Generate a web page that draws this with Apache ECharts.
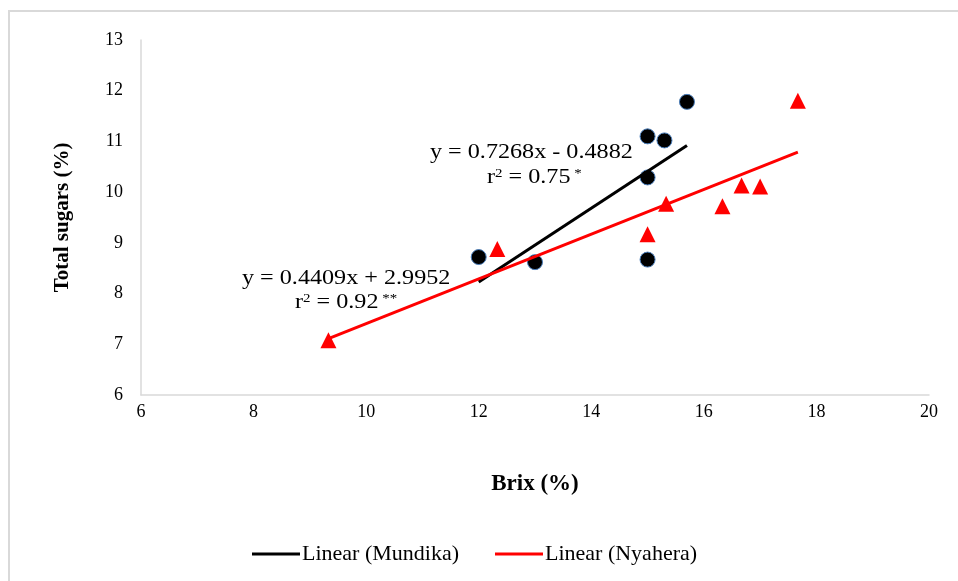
<!DOCTYPE html>
<html>
<head>
<meta charset="utf-8">
<script src="https://cdn.jsdelivr.net/npm/echarts@6/dist/echarts.min.js"></script>
<style>html,body{margin:0;padding:0;background:#fff}#c{width:958px;height:581px}</style>
</head>
<body>
<div id="c"></div>
<script>
// Data
var mundikaBrix   = [12.0, 13.0, 15.0, 15.0, 15.0, 15.3, 15.7];
var mundikaSugars = [8.72, 8.62, 8.67, 10.29, 11.10, 11.02, 11.78];
var nyaheraBrix   = [9.33, 12.33, 15.0, 15.33, 16.33, 16.67, 17.0, 17.67];
var nyaheraSugars = [7.08, 8.88, 9.17, 9.77, 9.72, 10.13, 10.11, 11.80];
// Trend line end points (as drawn)
var mundikaTrendX = [12.0, 15.7];
var mundikaTrendY = [8.23, 10.92];
var nyaheraTrendX = [9.33, 17.67];
var nyaheraTrendY = [7.11, 10.79];
var seriesNames = ['Linear (Mundika)', 'Linear (Nyahera)'];
var xTitle = 'Brix (%)';
var yTitle = 'Total sugars (%)';

function pairs(xs, ys){ return xs.map(function(x,i){ return [x, ys[i]]; }); }

var FONT = '"Liberation Serif", "Times New Roman", serif';
var SX = 1.15;
var richEq = {
  n: { font: '21px ' + FONT, fill: '#000', verticalAlign: 'bottom' },
  s: { font: '13px ' + FONT, fill: '#000', verticalAlign: 'top', padding: [0,0,8,0] }
};
var chart = echarts.init(document.getElementById('c'));
chart.setOption({
  animation: false,
  backgroundColor: '#fff',
  textStyle: { fontFamily: FONT },
  grid: { left: 141, top: 40, width: 788, height: 355, containLabel: false },
  xAxis: {
    type: 'value', min: 6, max: 20, interval: 2,
    name: xTitle, nameLocation: 'middle', nameGap: 78,
    nameTextStyle: { fontFamily: FONT, fontSize: 23, fontWeight: 'bold', color: '#000' },
    axisLine: { show: true, lineStyle: { color: '#d9d9d9', width: 1.5 } },
    axisTick: { show: false },
    splitLine: { show: false },
    axisLabel: { fontFamily: FONT, fontSize: 18, color: '#000', margin: 8 }
  },
  yAxis: {
    type: 'value', min: 6, max: 13, interval: 1,
    name: yTitle, nameLocation: 'middle', nameGap: 68,
    nameTextStyle: { fontFamily: FONT, fontSize: 21, fontWeight: 'bold', color: '#000' },
    axisLine: { show: true, lineStyle: { color: '#d9d9d9', width: 1.5 } },
    axisTick: { show: false },
    splitLine: { show: false },
    axisLabel: { fontFamily: FONT, fontSize: 18, color: '#000', margin: 18 }
  },
  legend: {
    data: seriesNames,
    left: 247, top: 538,
    itemWidth: 48, itemHeight: 3, itemGap: 36,
    icon: 'rect',
    textStyle: { fontFamily: FONT, fontSize: 22, color: '#000', padding: [0,0,0,-3] }
  },
  series: [
    {
      name: 'Mundika', type: 'scatter', symbol: 'circle', symbolSize: 15,
      itemStyle: { color: '#000', borderColor: '#4a7ebb', borderWidth: 1, opacity: 1 },
      data: pairs(mundikaBrix, mundikaSugars), z: 3
    },
    {
      name: 'Nyahera', type: 'scatter', symbol: 'triangle', symbolSize: 16,
      itemStyle: { color: '#ff0000', opacity: 1 },
      data: pairs(nyaheraBrix, nyaheraSugars), z: 3
    },
    {
      name: seriesNames[0], type: 'line', showSymbol: false, symbol: 'none',
      lineStyle: { color: '#000', width: 3 }, itemStyle: { color: '#000' },
      data: pairs(mundikaTrendX, mundikaTrendY), z: 4
    },
    {
      name: seriesNames[1], type: 'line', showSymbol: false, symbol: 'none',
      lineStyle: { color: '#ff0000', width: 3 }, itemStyle: { color: '#ff0000' },
      data: pairs(nyaheraTrendX, nyaheraTrendY), z: 4
    }
  ],
  graphic: [
    { type: 'rect', shape: { x: 9, y: 11, width: 1200, height: 1200 }, style: { fill: 'none', stroke: '#d9d9d9', lineWidth: 2 }, z: -1, silent: true },
    { type: 'text', x: 430, y: 142, scaleX: SX, style: { x: 0, y: 0, text: 'y = 0.7268x - 0.4882', font: '21px ' + FONT, fill: '#000', verticalAlign: 'top' } },
    { type: 'text', x: 487, y: 167, scaleX: SX, style: { x: 0, y: 0, text: '{n|r}{s|2}{n| = 0.75}{s| *}', rich: richEq, verticalAlign: 'top' } },
    { type: 'text', x: 242, y: 268, scaleX: SX, style: { x: 0, y: 0, text: 'y = 0.4409x + 2.9952', font: '21px ' + FONT, fill: '#000', verticalAlign: 'top' } },
    { type: 'text', x: 295, y: 292, scaleX: SX, style: { x: 0, y: 0, text: '{n|r}{s|2}{n| = 0.92}{s| **}', rich: richEq, verticalAlign: 'top' } }
  ]
});
</script>
</body>
</html>
